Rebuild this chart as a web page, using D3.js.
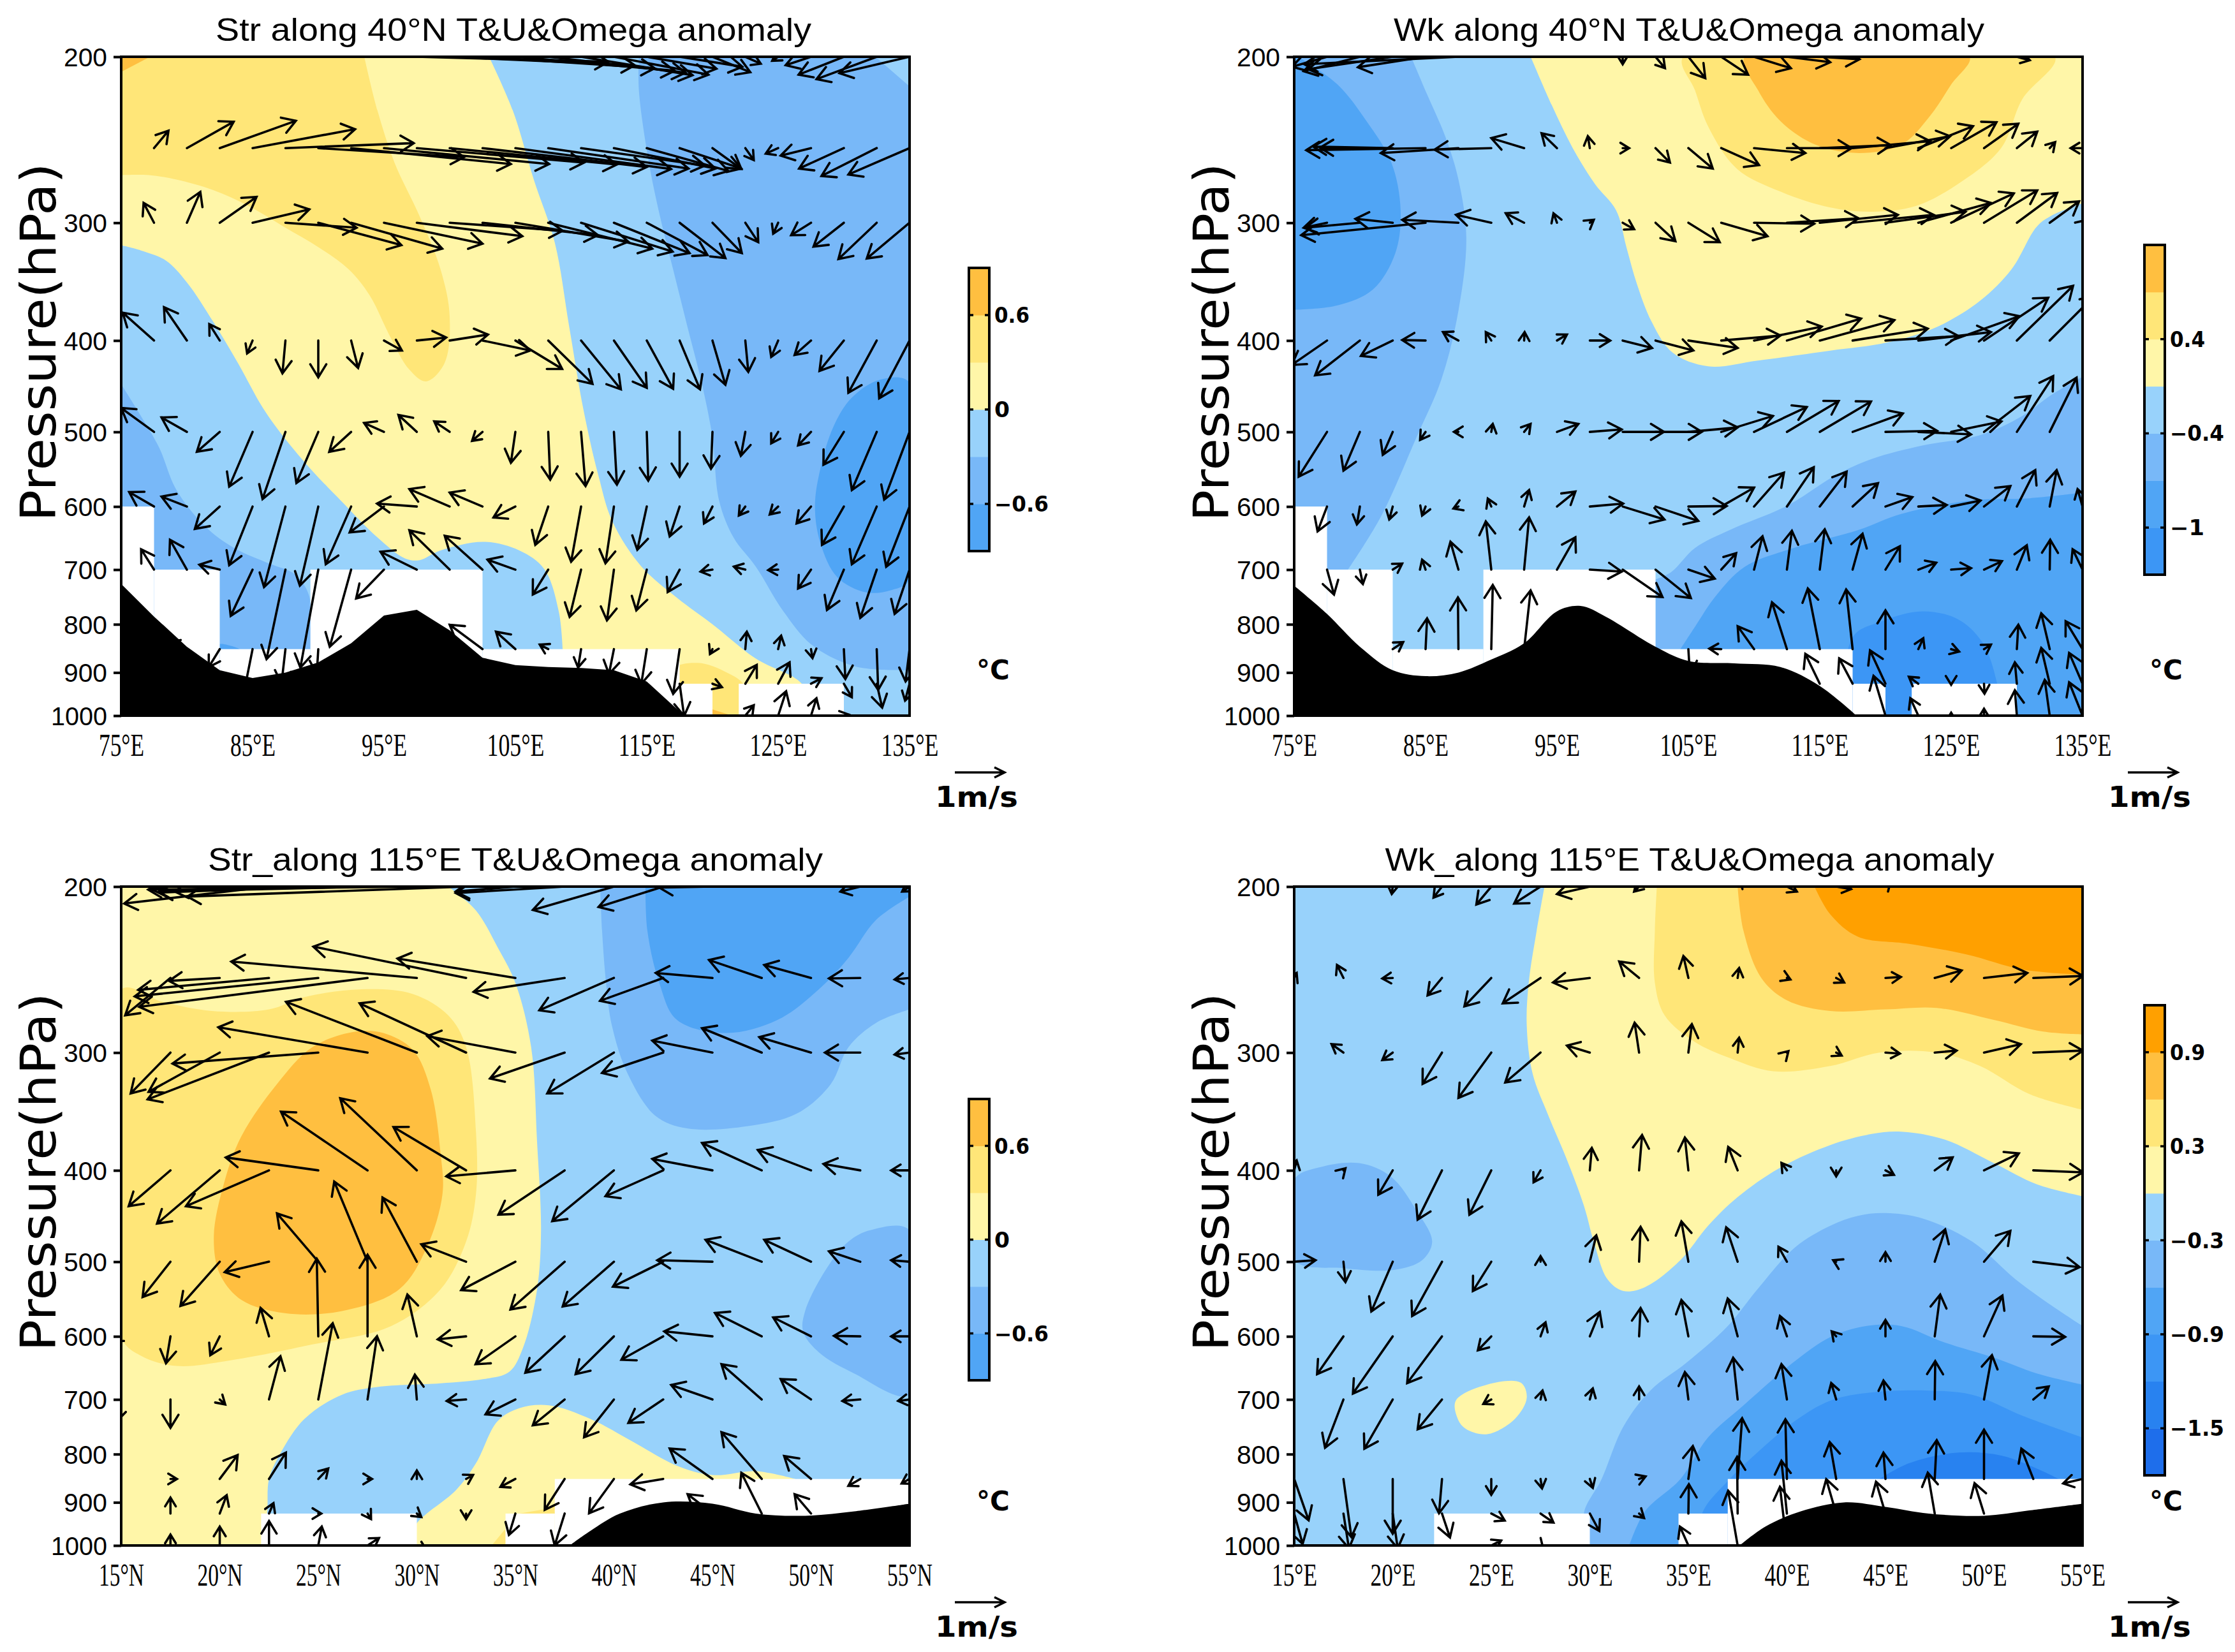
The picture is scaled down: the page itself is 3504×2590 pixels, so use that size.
<!DOCTYPE html>
<html>
<head>
<meta charset="utf-8">
<script src="https://cdn.jsdelivr.net/npm/d3@7"></script>
<style>
body { margin: 0; background: #fff; }
</style>
</head>
<body>
<div id="chart"></div>
<script>
// pressure levels that carry the wind vectors
var windLevels = [200, 250, 300, 400, 500, 600, 700, 850, 925, 1000];
var pressureTicks = [200, 300, 400, 500, 600, 700, 800, 900, 1000];

var lonTicks40 = [75, 85, 95, 105, 115, 125, 135];
var latTicks115 = [15, 20, 25, 30, 35, 40, 45, 50, 55];
var lonTicks115 = [15, 20, 25, 30, 35, 40, 45, 50, 55];

// shading classes of each colour bar, bottom to top
var classes40 = ["#50a5f5", "#78b8f8", "#98d2fb", "#fff6a8", "#ffe678", "#ffbf40"];
var classesWk40 = ["#3c96f5", "#50a5f5", "#78b8f8", "#98d2fb", "#fff6a8", "#ffe678", "#ffbf40"];
var classesWk115 = ["#1e6eeb", "#2882f0", "#3c96f5", "#50a5f5", "#78b8f8", "#98d2fb", "#fff6a8", "#ffe678", "#ffbf40", "#ffa000"];

var barLabels40 = [0.6, 0, -0.6];
var barLabelsWk40 = [0.4, -0.4, -1];
var barLabelsWk115 = [0.9, 0.3, -0.3, -0.9, -1.5];
// class boundary (from the bottom) that each label sits on
var barSlots40 = [5, 3, 1];
var barSlotsWk40 = [5, 3, 1];
var barSlotsWk115 = [9, 7, 5, 3, 1];

// no data below these pressures: column edges and top of the white block
var maskEdges40 = [75, 77.5, 82.5, 89.4, 102.5, 117.5, 120, 122, 130, 135];
var maskTops40 = [600, 700, 850, 700, 850, 925, 1000, 925, 1000];
var maskEdges115 = [15, 22.1, 30, 34.5, 37, 55];
var maskTops115 = [1000, 925, 1000, 925, 850];

// surface pressure along the section [degree, hPa]
var terrainStr40 = [[75,725],[77.5,785],[80,845],[82.5,895],[85,912],[87.5,900],[90,878],[92.5,838],[95,783],[97.5,772],[100,812],[102.5,868],[105,884],[107.5,888],[110,890],[112.5,895],[115,920],[117.5,990],[118,1000]];
var terrainWk40 = [[75,728],[77.5,780],[80,845],[82.5,895],[85,908],[87.5,900],[90,872],[92.5,838],[95,775],[96.8,765],[98.7,785],[102.5,845],[105,875],[108.5,880],[112,888],[115,930],[117.8,1000]];
var terrainStr115 = [[37.75,1000],[38.8,965],[40.3,925],[42.5,900],[45,903],[47.2,925],[49.7,930],[52.2,920],[55,903]];
var terrainWk115 = [[37.6,1000],[38.9,955],[40.7,920],[42.9,900],[45,910],[47.2,925],[50,930],[52.3,918],[55,903]];

// temperature anomaly regions, [class, segment, segment...], segments in [degree, hPa]
var bandsStr40 = [
  [1, [[[114.4,200],[114.4,217],[115.1,256],[115.9,291],[117,336],[118.1,387],[119.2,445],[120,507],[120.5,591],[121.6,647],[123.3,695],[125.4,775],[127.6,842],[130.9,887],[135,895]], [[135,1000],[135,215]], [[135,215],[132.4,200]]]],
  [0, [[[135,443],[132.8,440],[130.6,460],[129.2,494],[128.2,548],[127.8,599],[128.2,655],[129.5,713],[131.7,740],[133.6,736],[135,717]]]],
  [1, [[[75,445],[76.5,481],[77.9,520],[79.2,576],[81.4,630],[83.6,664],[86.3,690],[88.2,708],[89.3,746],[89.4,850]], [[89.4,1000],[75,1000]]]],
  [0, [[[82.5,840],[84,850],[82.5,850]]]],
  [3, [[[75,317],[76.5,321],[78.4,329],[80,347],[82,382],[83.9,423],[85.8,472],[87.4,507],[89.6,551],[91.7,591],[94.5,647],[96.6,681],[97.7,684],[99.3,668],[102.6,654],[105.3,668],[107.2,699],[108.3,775],[108.6,850]], [[108.6,1000],[127.9,1000]], [[127.9,1000],[126.8,925],[123.3,870],[120,800],[117.3,750],[114.6,695],[112.4,623],[111.3,555],[110.2,475],[109.1,387],[108,315],[106.4,270],[104.8,228],[103,200]], [[75,200]]]],
  [4, [[[93.5,200],[94.5,228],[95.8,259],[97.7,295],[99.3,336],[100,377],[99.6,423],[98.2,442],[96.9,429],[95.5,397],[93.9,358],[92.3,336],[90.1,319],[87.4,303],[84.7,288],[82,277],[79.2,270],[77.1,267],[75,267]], [[75,200]]]],
  [5, [[[75,207.5],[77.2,200]], [[75,200]]]],
  [4, [[[116.8,1000],[117,893],[118.9,879],[121.1,900],[122.4,928],[122.6,1000]]]],
  [5, [[[120,985],[121.5,1000]], [[120,1000]]]]
];
var bandsWk40 = [
  [2, [[[83.9,200],[85.1,219],[86.5,243],[87.5,270],[88.1,311],[87.5,372],[86.2,440],[84.3,507],[81.6,615],[79.1,700]], [[75,700],[75,200]]]],
  [1, [[[75.3,200],[78.3,214],[80.5,234],[82.4,259],[83.1,291],[82.7,323],[81,353],[78.3,367],[75,371]], [[75,200]]]],
  [2, [[[102.5,717],[103.7,704],[105.5,664],[108.2,635],[112.5,599],[116.3,555],[119,534],[122.8,517],[127.2,504],[130.4,481],[132.6,457],[135,437]], [[135,1000],[102.5,1000]]]],
  [1, [[[104.4,850],[105.5,805],[107.1,746],[109.3,695],[113,664],[118,635],[121.2,611],[126.6,591],[131,588],[135,580]], [[135,1000],[104.4,1000]]]],
  [0, [[[117.5,1000],[117.5,826],[119.6,795],[122.8,775],[125.5,790],[127.4,837],[128.5,925],[128.8,1000]]]],
  [4, [[[93,200],[94.6,225],[96.2,250],[97.9,273],[99.5,291],[100.3,319],[101.1,349],[102.2,382],[103.8,412],[106.5,426],[110.3,420],[115.8,410],[120.1,402],[123.9,387],[127.2,363],[129.6,336],[131.5,303],[132.6,295],[135,286]], [[135,200]]]],
  [5, [[[104.6,200],[105.5,217],[106.5,237],[108.7,263],[112,278],[115.8,289],[119,292],[122.3,288],[125.5,273],[128.8,250],[130.4,222],[132.9,200]]]],
  [6, [[[109.3,200],[110.3,217],[112,234],[114.7,248],[118,253],[121.2,248],[123.4,231],[125,214],[126.4,200]]]]
];
var bandsStr115 = [
  [1, [[[39.3,200],[39.4,223],[39.6,253],[39.9,281],[40.7,316],[42.1,350],[43.7,361],[46.8,359],[49.3,348],[51,324],[51.9,296],[53.3,279],[55,270]], [[55,200]]]],
  [0, [[[41.6,200],[41.7,223],[42.3,253],[43.2,277],[45.7,286],[48.3,277],[50.4,257],[51.9,238],[53.3,217],[55,205]], [[55,200]]]],
  [1, [[[55,463],[53,463],[51.9,476],[50.8,508],[49.7,564],[49.6,593],[50.4,624],[52.2,657],[55,692]]]],
  [3, [[[31.6,200],[33,212],[34.1,232],[35,253],[35.8,296],[36.1,373],[36.3,464],[36.1,535],[35.4,616],[34.7,654],[33.4,666],[31.2,673],[28,679],[26.2,692],[24.3,734],[23.1,797],[22.5,850],[22.4,925],[22.1,1000]], [[15,1000],[15,200]]]],
  [3, [[[29.9,1000],[29.9,955],[32,873],[33,818],[34.1,738],[35.2,715],[36.7,710],[38.8,734],[41,777],[43.2,823],[45,842],[47.2,834],[49.2,850]], [[49.2,1000]]]],
  [4, [[[15,257],[17.1,265],[19.6,271],[22.5,270],[24.3,262],[27.2,257],[29.8,260],[31.6,274],[32.5,296],[33,364],[33,424],[32.5,476],[31.2,535],[28.7,585],[24.7,612],[20.4,637],[17.8,645],[16,629],[15,601]]]],
  [5, [[[26.9,285],[28.3,286],[29.8,298],[30.7,328],[31.2,383],[31.3,424],[30.5,483],[29.1,535],[26.2,564],[23.3,567],[21.1,549],[20,515],[19.7,470],[20.2,414],[21.1,368],[22.9,324],[24.7,296]]]],
  [4, [[[33.8,1000],[34.5,960]], [[34.5,1000]]]],
  [4, [[[35.2,925],[36.5,915]], [[37,905],[37,925]]]]
];
var bandsWk115 = [
  [6, [[[27.7,200],[27.3,223],[26.9,253],[26.8,281],[27.1,316],[27.9,350],[28.8,388],[29.7,436],[30.2,476],[30.9,522],[31.7,537],[32.8,532],[34.6,498],[36,458],[37.5,427],[39.6,398],[42.2,376],[44.3,366],[45.8,364],[48,371],[50.5,393],[52.7,414],[55,426]], [[55,200]]]],
  [6, [[[23.2,702],[24.8,675],[26.5,672],[26.8,697],[26.2,734],[24.8,762],[23.7,752],[23.3,734]]]],
  [7, [[[33.4,200],[33.3,223],[33.3,253],[33.8,274],[35.3,292],[37.1,304],[39.3,314],[42.2,310],[44.7,300],[47.6,300],[49.8,310],[52.3,332],[55,345]], [[55,200]]]],
  [8, [[[37.5,200],[37.8,223],[38.7,250],[40,264],[42.2,271],[45,270],[47.6,269],[50.5,277],[53,285],[55,287]], [[55,200]]]],
  [9, [[[41.4,200],[42.2,214],[43.6,226],[46.2,230],[49.1,236],[52,245],[55,248]], [[55,200]]]],
  [4, [[[15,409],[16.3,397],[18.3,393],[19.9,406],[21.2,441],[22,476],[21.5,498],[20.1,510],[17.5,508],[15,498]]]],
  [4, [[[30,1000],[29.7,925],[30.6,850],[31.7,748],[33.1,684],[34.9,640],[37,585],[38.5,535],[40.4,483],[42.2,458],[43.6,447],[45,444],[46.9,450],[49.4,476],[51.6,522],[53.4,556],[55,585]], [[55,1000]]]],
  [3, [[[32,1000],[32.8,920],[34.6,850],[36,768],[37.8,710],[40.3,640],[42.2,601],[44,585],[45.8,585],[48,609],[50.5,632],[52.7,657],[55,675]], [[55,1000]]]],
  [2, [[[35.7,1000],[35.7,925],[37.1,850],[38.5,797],[40.4,738],[42.2,702],[44.3,688],[47.2,685],[49.4,692],[52,729],[55,768]], [[55,1000]]]],
  [1, [[[44.7,850],[46.2,818],[48.7,797],[50.9,803],[52.7,829],[53.8,850]], [[53.8,900],[44.7,900]]]]
];

// wind anomaly per level in windLevels: [grid column, u m/s, omega drawn upward]
var windStr40 = [
  [[9,3.85,-.1],[10,3.72,-.17],[11,3.46,-.23],[12,3.2,-.28],[13,2.76,-.32],[14,2.24,-.37],[15,1.9,-.36],[16,1.4,-.24],[17,1.26,-.2],[18,.76,-.31],[19,.31,-.14],[20,-.12,-.08],[21,-.51,-.17],[22,-.91,-.36],[23,-1.21,-.45],[24,-1.41,-.33]],
  [[1,.29,.35],[2,.94,.53],[3,1.53,.55],[4,2.06,.38],[5,2.58,.1],[6,2.93,-.18],[7,3.21,-.32],[8,3.32,-.32],[9,3.36,-.29],[10,3.36,-.33],[11,3.3,-.38],[12,3.13,-.42],[13,2.82,-.41],[14,2.49,-.35],[15,2.04,-.41],[16,1.64,-.46],[17,1.24,-.41],[18,.58,-.42],[19,.17,-.24],[20,-.25,-.11],[21,-.61,-.15],[22,-.9,-.41],[23,-1.11,-.56],[24,-1.23,-.53]],
  [[1,-.21,.4],[2,.27,.62],[3,.74,.52],[4,1.14,.27],[5,1.43,-.1],[6,1.67,-.45],[7,1.83,-.52],[8,1.98,-.42],[9,2.12,-.27],[10,2.27,-.16],[11,2.32,-.25],[12,2.27,-.38],[13,2.09,-.52],[14,1.84,-.58],[15,1.52,-.61],[16,1.22,-.65],[17,.92,-.71],[18,.59,-.61],[19,.26,-.39],[20,-.1,-.22],[21,-.4,-.25],[22,-.61,-.48],[23,-.77,-.73],[24,-.86,-.72]],
  [[1,-.63,.56],[2,-.46,.67],[3,-.21,.33],[4,-.11,-.26],[5,-.06,-.66],[6,0,-.74],[7,.14,-.55],[8,.36,-.2],[9,.59,.06],[10,.77,.12],[11,.96,-.2],[12,.94,-.57],[13,.89,-.87],[14,.8,-.98],[15,.66,-.95],[16,.53,-.97],[17,.41,-.98],[18,.26,-.89],[19,.06,-.63],[20,-.14,-.33],[21,-.33,-.29],[22,-.49,-.61],[23,-.57,-1.05],[24,-.61,-1.16]],
  [[1,-.66,.48],[2,-.51,.29],[3,-.46,-.4],[4,-.47,-1.1],[5,-.46,-1.35],[6,-.44,-1.03],[7,-.44,-.4],[8,-.4,.18],[9,-.37,.34],[10,-.31,.21],[11,-.21,-.18],[12,-.09,-.62],[13,.04,-.96],[14,.09,-1.09],[15,.06,-1.06],[16,.03,-.98],[17,0,-.9],[18,-.03,-.74],[19,-.09,-.48],[20,-.14,-.23],[21,-.26,-.27],[22,-.41,-.66],[23,-.5,-1.17],[24,-.51,-1.36]],
  [[1,-.5,.29],[2,-.51,.2],[3,-.5,-.45],[4,-.47,-1.18],[5,-.43,-1.62],[6,-.37,-1.59],[7,-.51,-1.16],[8,-.69,-.52],[9,-.8,.06],[10,-.81,.35],[11,-.66,.28],[12,-.44,-.22],[13,-.26,-.77],[14,-.2,-1.11],[15,-.17,-1.14],[16,-.19,-.87],[17,-.2,-.6],[18,-.17,-.34],[19,-.13,-.18],[20,-.17,-.16],[21,-.29,-.34],[22,-.44,-.77],[23,-.5,-1.16],[24,-.47,-1.21]],
  [[1,-.26,.41],[2,-.34,.6],[3,-.41,.1],[4,-.44,-.93],[5,-.38,-1.8],[6,-.36,-1.97],[7,-.43,-1.55],[8,-.56,-.58],[9,-.73,.36],[10,-.81,.79],[11,-.76,.68],[12,-.56,.2],[13,-.31,-.5],[14,-.23,-.95],[15,-.14,-1.02],[16,-.21,-.82],[17,-.24,-.45],[18,-.24,-.04],[19,-.23,.06],[20,-.2,-.01],[21,-.26,-.38],[22,-.34,-.81],[23,-.33,-.97],[24,-.3,-.89]],
  [[2,-.35,.15],[3,-.22,-.36],[4,-.2,-1],[5,-.08,-.7],[6,-.03,-.5],[11,-.66,.49],[12,-.39,.35],[13,-.17,.09],[14,-.06,-.37],[15,-.1,-.5],[16,-.11,-.7],[17,-.13,-.9],[18,-.05,-.1],[19,.03,.35],[20,.06,.27],[21,.03,-.18],[22,.03,-.6],[23,.03,-.82],[24,-.08,-.65]],
  [[17,.09,-.65],[18,.19,-.07],[19,.23,.38],[20,.23,.43],[21,.21,.11],[22,.16,-.27],[23,.11,-.48],[24,-.09,-.34]],
  [[19,.17,.21],[20,.16,.49],[21,.11,.35],[22,.1,.02]]
];
var windWk40 = [
  [[1,-.7,-.2],[2,-1.13,-.29],[3,-1.7,-.25],[4,-1.36,-.21],[5,-3.1,-.15],[10,0,-.15],[11,.19,-.23],[12,.34,-.43],[13,.54,-.36],[14,.74,-.23],[15,.87,-.11],[16,.8,-.05],[22,.26,-.07]],
  [[2,-.8,.01],[3,-1.6,.03],[4,-2.4,-.04],[5,-1.56,-.1],[6,-1.14,-.03],[7,-.66,.2],[8,-.31,.3],[9,-.04,.24],[10,.13,0],[11,.29,-.29],[12,.49,-.41],[13,.76,-.34],[14,1.03,-.1],[15,1.3,0],[16,1.43,.06],[17,1.56,.14],[18,1.3,.24],[19,1.1,.44],[20,.91,.52],[21,.69,.49],[22,.41,.33],[23,.11,.12],[24,-.24,0]],
  [[1,-.47,-.1],[2,-1.1,-.1],[3,-.75,.08],[4,-2.5,-.25],[5,-1.13,.06],[6,-.71,.16],[7,-.37,.19],[8,-.07,.19],[9,.08,.06],[10,.23,-.13],[11,.4,-.37],[12,.63,-.39],[13,.93,-.27],[14,1.21,-.02],[15,1.44,.09],[16,1.57,.16],[17,1.63,.16],[18,1.61,.22],[19,1.46,.4],[20,1.26,.59],[21,1.07,.65],[22,.81,.6],[23,.59,.43],[24,.05,.05]],
  [[1,-.71,-.49],[2,-.9,-.7],[3,-.64,-.31],[4,-.47,.01],[5,-.31,.17],[6,-.11,.17],[7,.01,.17],[8,.2,.12],[9,.41,0],[10,.59,-.15],[11,.76,-.2],[12,.99,-.15],[13,1.19,.1],[14,1.36,.28],[15,1.49,.44],[16,1.5,.41],[17,1.51,.24],[18,1.47,.09],[19,1.46,.17],[20,1.37,.49],[21,1.29,.86],[22,1.13,1.1],[23,.9,.9]],
  [[1,-.57,-.9],[2,-.33,-.78],[3,-.2,-.46],[4,-.11,-.16],[5,-.09,0],[6,.03,.16],[7,.13,.16],[8,.43,.16],[9,.64,.05],[10,.83,0],[11,.93,0],[12,.99,.09],[13,1.04,.32],[14,1.06,.5],[15,1.04,.62],[16,1.03,.61],[17,1.01,.37],[18,1.04,.02],[19,1.06,-.05],[20,1.01,.21],[21,.93,.72],[22,.73,1.12],[23,.54,1.09]],
  [[1,-.19,-.5],[2,-.06,-.36],[3,-.07,-.26],[4,-.07,-.18],[5,-.1,-.04],[6,-.07,.16],[7,.1,.33],[8,.37,.3],[9,.67,.06],[10,.84,-.26],[11,.86,-.29],[12,.77,.01],[13,.66,.38],[14,.6,.68],[15,.54,.79],[16,.54,.7],[17,.51,.47],[18,.54,.19],[19,.57,.03],[20,.59,.12],[21,.53,.41],[22,.37,.73],[23,.14,.73],[24,-.1,.35]],
  [[1,.14,-.5],[2,.06,-.29],[3,.19,.12],[4,-.07,.2],[5,-.16,.56],[6,-.11,.97],[7,.1,1.05],[8,.37,.65],[9,.64,-.04],[10,.8,-.55],[11,.71,-.57],[12,.53,-.18],[13,.3,.33],[14,.17,.67],[15,.1,.78],[16,.1,.81],[17,.2,.72],[18,.29,.47],[19,.36,.14],[20,.4,.03],[21,.36,.17],[22,.2,.49],[23,.01,.6],[24,-.2,.41]],
  [[3,.21,.14],[4,.03,.62],[5,-.01,1.04],[6,.03,1.29],[7,.13,1.18],[12,.03,-.5],[13,-.24,.01],[14,-.33,.46],[15,-.3,.94],[16,-.24,1.22],[17,-.13,1.2],[18,0,.78],[19,.1,.22],[20,.16,-.05],[21,.14,.09],[22,.03,.49],[23,-.17,.72],[24,-.34,.56]],
  [[16,-.29,.6],[17,-.27,.51],[18,-.31,.67],[19,-.19,.14],[20,0,-.02],[21,.01,-.2],[22,-.04,.43],[23,-.17,.72],[24,-.27,.62]],
  [[4,.03,.62],[5,-.01,.6],[6,.03,.9],[18,-.24,.8],[19,-.16,.35],[20,0,.06],[21,0,.14],[22,-.04,.51],[23,-.1,.72],[24,-.27,.67]]
];
var windStr115 = [
  [[1,-.4,-.05],[2,-.9,-.1],[3,-2.91,-.34],[4,-3.2,-.12],[5,-4.2,-.1],[6,-5.4,-.06],[7,-5.6,-.2],[8,-1.2,-.1],[9,-2.19,-.13],[10,-1.63,-.47],[11,-1.3,-.41],[12,-1.07,-.02],[15,-.4,-.1],[16,-.15,-.1]],
  [[1,-.91,-.75],[2,-1.02,-.06],[3,-2.63,-.24],[4,-3.69,-.37],[5,-4.59,-.58],[6,-3.73,.33],[7,-3.07,.63],[8,-2.37,.39],[9,-1.83,-.28],[10,-1.5,-.65],[11,-1.27,-.46],[12,-1.14,.1],[13,-1.06,.36],[14,-.94,.26],[15,-.63,-.01],[16,-.3,-.03]],
  [[1,-.8,-.82],[2,-1.43,-.79],[3,-2.44,-.94],[4,-2.93,-.22],[5,-3,.51],[6,-2.63,1.02],[7,-2.14,.99],[8,-1.77,.33],[9,-1.5,-.52],[10,-1.34,-.82],[11,-1.23,-.41],[12,-1.21,.24],[13,-1.2,.49],[14,-1.04,.31],[15,-.71,0],[16,-.3,-.04]],
  [[1,-.84,-.72],[2,-1.26,-1.07],[3,-1.67,-.72],[4,-1.86,.26],[5,-1.74,1.18],[6,-1.54,1.45],[7,-1.46,.87],[8,-1.39,-.12],[9,-1.33,-.89],[10,-1.24,-1.02],[11,-1.16,-.52],[12,-1.21,.23],[13,-1.2,.55],[14,-1.07,.41],[15,-.74,.13],[16,-.37,0]],
  [[1,-.56,-.71],[2,-.79,-.89],[3,-.89,-.21],[4,-.83,.97],[5,-.67,1.61],[6,-.69,1.29],[7,-.9,.35],[8,-1.09,-.57],[9,-1.09,-.96],[10,-1.03,-.9],[11,-1.01,-.5],[12,-1.11,.03],[13,-1.13,.44],[14,-.94,.44],[15,-.63,.21],[16,-.37,.03]],
  [[0,-.15,-.1],[1,-.09,-.54],[2,-.19,-.38],[3,-.17,.57],[4,-.03,1.56],[5,0,1.64],[6,-.19,.84],[7,-.57,-.06],[8,-.8,-.56],[9,-.79,-.73],[10,-.77,-.76],[11,-.84,-.47],[12,-.97,.1],[13,-.94,.47],[14,-.76,.38],[15,-.53,.01],[16,-.37,0]],
  [[0,-.1,-.45],[1,0,-.57],[2,.11,-.1],[3,.23,.87],[4,.29,1.53],[5,.19,1.27],[6,-.04,.5],[7,-.39,-.03],[8,-.6,-.3],[9,-.64,-.52],[10,-.6,-.76],[11,-.7,-.47],[12,-.83,.29],[13,-.81,.71],[14,-.61,.41],[15,-.36,-.03],[16,-.23,-.03]],
  [[1,.13,0],[2,.36,.48],[3,.34,.53],[4,.2,.21],[5,.09,0],[6,0,.17],[7,.14,.08],[8,-.3,-.16],[9,-.4,-.62],[10,-.5,-.69],[11,-.66,-.11],[12,-.86,.61],[13,-.81,.94],[14,-.54,.46],[15,-.24,-.14],[16,-.16,-.09]],
  [[1,0,.32],[2,.14,.37],[3,.09,.21],[4,.06,0],[5,.07,-.11],[6,.09,-.07],[7,0,-.11],[8,-.13,-.43],[9,-.2,-.64],[12,-.5,.39],[13,-.41,.82],[14,-.33,.39]],
  [[1,0,.22],[2,0,.38],[3,0,.49],[4,.07,.38],[5,.23,.15],[6,.2,-.1]]
];
var windWk115 = [
  [[2,-.02,-.15],[3,-.17,-.22],[4,-.3,-.36],[5,-.53,-.34],[6,-.66,-.15],[7,-.1,-.1],[9,.05,.15],[10,.2,-.1],[11,.3,-.05],[12,.1,.1]],
  [[0,.05,.1],[1,-.13,.26],[2,-.21,-.01],[3,-.29,-.35],[4,-.54,-.57],[5,-.76,-.51],[6,-.74,-.09],[7,-.4,.33],[8,-.1,.44],[9,.03,.2],[10,.07,-.03],[11,.16,-.09],[12,.31,.02],[13,.54,.15],[14,.87,.1],[15,1,.04]],
  [[1,-.24,.17],[2,-.21,-.15],[3,-.39,-.63],[4,-.66,-.91],[5,-.71,-.6],[6,-.46,.14],[7,-.09,.6],[8,.07,.57],[9,.03,.3],[10,.03,.03],[11,.11,-.06],[12,.29,-.02],[13,.44,.04],[14,.74,.17],[15,1,.04]],
  [[0,.05,.2],[1,.04,.04],[2,-.29,-.49],[3,-.49,-.99],[4,-.44,-.89],[5,-.14,-.24],[6,.04,.45],[7,.06,.71],[8,-.07,.66],[9,-.19,.47],[10,-.11,.15],[11,0,-.12],[12,.17,-.09],[13,.36,.26],[14,.7,.34],[15,1,-.04]],
  [[0,.43,.03],[1,.04,-.41],[2,-.43,-1],[3,-.6,-1.09],[4,-.37,-.59],[5,0,.11],[6,.13,.53],[7,.03,.7],[8,-.14,.81],[9,-.23,.69],[10,-.17,.3],[11,-.06,.03],[12,0,.19],[13,.21,.65],[14,.53,.62],[15,.93,-.11]],
  [[1,-.53,-.76],[2,-.8,-1.15],[3,-.7,-.94],[4,-.27,-.28],[5,.1,.28],[6,.2,.49],[7,.03,.57],[8,-.14,.73],[9,-.2,.76],[10,-.14,.41],[11,-.09,.1],[12,0,.33],[13,.11,.84],[14,.37,.82],[15,.64,-.01]],
  [[1,-.37,-.97],[2,-.57,-.99],[3,-.49,-.6],[4,-.16,-.09],[5,.04,.18],[6,.06,.22],[7,0,.26],[8,-.07,.55],[9,-.09,.84],[10,-.11,.71],[11,-.1,.33],[12,-.04,.38],[13,.01,.77],[14,.16,.89],[15,.31,.26]],
  [[0,.29,-.83],[1,.16,-1.17],[2,0,-1.1],[3,-.06,-.69],[4,0,-.32],[5,.03,-.19],[6,.06,-.18],[7,.13,.05],[8,.09,.66],[9,.09,1.22],[10,-.03,1.2],[11,-.13,.74],[12,-.04,.53],[13,.04,.78],[14,0,.99],[15,-.24,.61],[16,-.39,-.09]],
  [[0,.17,-.61],[1,.11,-.7],[2,.1,-.7],[3,.16,-.48],[4,.27,-.14],[5,.26,-.18],[6,.19,-.35],[7,.1,-.09],[8,.01,.59],[9,-.01,1.14],[10,-.11,1.06],[11,-.2,.69],[12,-.19,.64],[13,-.14,.82],[14,-.19,.61]],
  [[4,.2,.1],[5,.05,-.05],[8,-.17,.38],[9,-.19,1.1],[10,-.14,1.18]]
];

var width = 3504, height = 2590;
var plotW = 1236, plotH = 1033;
var refLen = 78; // pixels of the 1 m/s reference arrow

var svg = d3.select("#chart").append("svg")
  .attr("width", width).attr("height", height)
  .style("display", "block");

var uScale = d3.scaleLinear().domain([0, 1]).range([0, refLen]);

function fitText(sel, len) {
  sel.attr("textLength", len).attr("lengthAdjust", "spacingAndGlyphs");
}

function drawPanel(p) {
  var g = svg.append("g").attr("transform", "translate(" + p.left + "," + p.top + ")");
  var x = d3.scaleLinear().domain(p.domain).range([0, plotW]);
  var y = d3.scaleLog().domain([200, 1000]).range([0, plotH]);
  var step = 2.5;

  var clipId = "clip" + p.id;
  g.append("clipPath").attr("id", clipId).append("rect").attr("width", plotW).attr("height", plotH);
  var inner = g.append("g").attr("clip-path", "url(#" + clipId + ")");

  // shading: light blue background then regions painted over it
  inner.append("rect").attr("width", plotW).attr("height", plotH).attr("fill", "#98d2fb");

  var curveLine = d3.line().x(function(d) { return x(d[0]); }).y(function(d) { return y(d[1]); })
    .curve(d3.curveCatmullRom.alpha(0.5));
  var closedLine = d3.line().x(function(d) { return x(d[0]); }).y(function(d) { return y(d[1]); })
    .curve(d3.curveCatmullRomClosed.alpha(0.5));

  function bandPath(segs) {
    if (segs.length == 1) return closedLine(segs[0]);
    return segs.map(function(seg, i) {
      if (seg.length < 3) {
        return seg.map(function(c, j) {
          return (i == 0 && j == 0 ? "M" : "L") + x(c[0]) + "," + y(c[1]);
        }).join("");
      }
      var d = curveLine(seg);
      return i == 0 ? d : "L" + d.slice(1);
    }).join("") + "Z";
  }

  inner.selectAll(".band").data(p.bands).enter().append("path")
    .attr("class", "band")
    .attr("d", function(d) { return bandPath(d[1]); })
    .attr("fill", function(d) { return p.colors[d[0]]; });

  // missing data blocks
  inner.selectAll(".mask").data(p.maskTops).enter().append("rect")
    .attr("class", "mask")
    .attr("x", function(d, i) { return x(p.maskEdges[i]); })
    .attr("width", function(d, i) { return x(p.maskEdges[i + 1]) - x(p.maskEdges[i]); })
    .attr("y", function(d) { return y(d); })
    .attr("height", function(d) { return plotH - y(d); })
    .attr("fill", "#fff");

  // vectors
  var vectors = [];
  p.wind.forEach(function(row, k) {
    row.forEach(function(d) {
      vectors.push({ lon: p.domain[0] + d[0] * step, lev: windLevels[k], u: d[1], w: d[2] });
    });
  });
  inner.selectAll(".vec").data(vectors).enter().append("path")
    .attr("class", "vec")
    .attr("fill", "none").attr("stroke", "#000").attr("stroke-width", 3.6)
    .attr("stroke-linejoin", "miter").attr("stroke-linecap", "round")
    .attr("d", function(d) {
      var x0 = x(d.lon), y0 = y(d.lev);
      var dx = uScale(d.u), dy = -uScale(d.w);
      var len = Math.sqrt(dx * dx + dy * dy) || 1;
      var x1 = x0 + dx, y1 = y0 + dy;
      var barb = Math.min(24, Math.max(16, len * 0.6));
      var a = Math.atan2(dy, dx);
      var da = 0.55;
      return "M" + x0 + "," + y0 + "L" + x1 + "," + y1 +
        "M" + (x1 - barb * Math.cos(a - da)) + "," + (y1 - barb * Math.sin(a - da)) +
        "L" + x1 + "," + y1 +
        "L" + (x1 - barb * Math.cos(a + da)) + "," + (y1 - barb * Math.sin(a + da));
    });

  // terrain on top
  var terrain = d3.area().x(function(d) { return x(d[0]); }).y0(plotH).y1(function(d) { return y(d[1]); })
    .curve(p.smoothTerrain ? d3.curveCatmullRom.alpha(0.5) : d3.curveLinear);
  inner.append("path").datum(p.terrain).attr("d", terrain).attr("fill", "#000");

  // frame
  g.append("rect").attr("width", plotW).attr("height", plotH)
    .attr("fill", "none").attr("stroke", "#000").attr("stroke-width", 4);

  // axes
  var yAxis = d3.axisLeft(y).tickValues(pressureTicks).tickFormat(d3.format("d")).tickSize(12).tickPadding(10);
  var ya = g.append("g").call(yAxis);
  ya.select(".domain").remove();
  ya.selectAll(".tick line").attr("stroke-width", 4).attr("stroke", "#000");
  ya.selectAll("text")
    .attr("font-family", "'Liberation Sans Narrow','Liberation Sans',sans-serif")
    .attr("font-size", 40).attr("fill", "#000")
    .attr("dy", "0.36em")
    .each(function(d) { fitText(d3.select(this), d >= 1000 ? 88 : 68); });

  var xAxis = d3.axisBottom(x).tickValues(p.xTicks)
    .tickFormat(function(d) { return d + "°" + p.hemi; }).tickSize(0).tickPadding(30);
  var xa = g.append("g").attr("transform", "translate(0," + plotH + ")").call(xAxis);
  xa.select(".domain").remove();
  xa.selectAll("text")
    .attr("font-family", "'Liberation Serif',serif")
    .attr("font-size", 50).attr("fill", "#000")
    .attr("y", 63).attr("dy", 0)
    .each(function(d) { fitText(d3.select(this), d >= 100 ? 90 : 71); });

  // titles
  var title = g.append("text").attr("x", p.titleX).attr("y", p.titleY).attr("text-anchor", "middle")
    .attr("font-family", "'Liberation Sans Narrow','Liberation Sans',sans-serif")
    .attr("font-size", 50).attr("fill", "#000").text(p.title);
  fitText(title, p.titleW);

  var yTitle = g.append("text")
    .attr("transform", "translate(-103," + (plotH * 0.5 - 69) + ") rotate(-90)")
    .attr("text-anchor", "middle")
    .attr("font-family", "'DejaVu Sans',sans-serif").attr("font-size", 76).attr("fill", "#000")
    .text("Pressure(hPa)");
  fitText(yTitle, 562);

  // colour bar
  var barX = p.barLeft - p.left, barW = 32, barTop = p.barTop - p.top;
  var n = p.colors.length;
  var cell = p.barH / n;
  var barScale = d3.scaleLinear().domain([0, n]).range([barTop + p.barH, barTop]);
  g.selectAll(".cell").data(p.colors).enter().append("rect")
    .attr("class", "cell")
    .attr("x", barX).attr("width", barW)
    .attr("y", function(d, i) { return barScale(i + 1); })
    .attr("height", cell + 0.5)
    .attr("fill", function(d) { return d; });
  g.append("rect").attr("x", barX).attr("y", barTop).attr("width", barW).attr("height", p.barH)
    .attr("fill", "none").attr("stroke", "#000").attr("stroke-width", 4);

  p.barLabels.forEach(function(v, i) {
    var yy = barScale(p.barSlots[i]);
    [[barX, barX + 7], [barX + barW - 7, barX + barW]].forEach(function(t) {
      g.append("line").attr("x1", t[0]).attr("x2", t[1]).attr("y1", yy).attr("y2", yy)
        .attr("stroke", "#000").attr("stroke-width", 3.5);
    });
    var s = String(Math.abs(v));
    var lab = g.append("text").attr("x", barX + barW + 8).attr("y", yy + 12)
      .attr("font-family", "'DejaVu Sans',sans-serif").attr("font-weight", "bold")
      .attr("font-size", 33).attr("fill", "#000")
      .text((v < 0 ? "\u2212" : "") + s);
    fitText(lab, (v < 0 ? 30 : 0) + (s.length == 1 ? 24 : 55));
  });

  // unit and reference arrow
  g.append("text").attr("x", 1341).attr("y", plotH + p.unitY)
    .attr("font-family", "'DejaVu Sans',sans-serif").attr("font-weight", "bold")
    .attr("font-size", 42).attr("fill", "#000").text("°C");

  var refY = plotH + 89;
  var rx = 1307;
  var rl = uScale(1);
  g.append("path")
    .attr("d", "M" + rx + "," + refY + "L" + (rx + rl) + "," + refY +
      "M" + (rx + rl - 16) + "," + (refY - 8) + "L" + (rx + rl) + "," + refY + "L" + (rx + rl - 16) + "," + (refY + 8))
    .attr("fill", "none").attr("stroke", "#000").attr("stroke-width", 3.5);
  var refText = g.append("text").attr("x", 1276).attr("y", plotH + 143)
    .attr("font-family", "'DejaVu Sans',sans-serif").attr("font-weight", "bold")
    .attr("font-size", 44).attr("fill", "#000").text("1m/s");
  fitText(refText, 130);
}

drawPanel({ id: 1, left: 190, top: 89, domain: [75, 135], xTicks: lonTicks40, hemi: "E",
  title: "Str along 40°N T&U&Omega anomaly", titleX: 615, titleY: -25, titleW: 934,
  bands: bandsStr40, colors: classes40, maskEdges: maskEdges40, maskTops: maskTops40,
  terrain: terrainStr40, wind: windStr40,
  barLeft: 1519, barTop: 420, barH: 444, barLabels: barLabels40, barSlots: barSlots40, unitY: -57 });
drawPanel({ id: 2, left: 2029, top: 89, domain: [75, 135], xTicks: lonTicks40, hemi: "E",
  title: "Wk along 40°N T&U&Omega anomaly", titleX: 619, titleY: -25, titleW: 926,
  bands: bandsWk40, colors: classesWk40, maskEdges: maskEdges40, maskTops: maskTops40,
  terrain: terrainWk40, wind: windWk40, smoothTerrain: true,
  barLeft: 3362, barTop: 384, barH: 517, barLabels: barLabelsWk40, barSlots: barSlotsWk40, unitY: -57 });
drawPanel({ id: 3, left: 190, top: 1390, domain: [15, 55], xTicks: latTicks115, hemi: "N",
  title: "Str_along 115°E T&U&Omega anomaly", titleX: 618, titleY: -25, titleW: 964,
  bands: bandsStr115, colors: classes40, maskEdges: maskEdges115, maskTops: maskTops115,
  terrain: terrainStr115, wind: windStr115, smoothTerrain: true,
  barLeft: 1519, barTop: 1723, barH: 441, barLabels: barLabels40, barSlots: barSlots40, unitY: -55 });
drawPanel({ id: 4, left: 2029, top: 1390, domain: [15, 55], xTicks: lonTicks115, hemi: "E",
  title: "Wk_along 115°E T&U&Omega anomaly", titleX: 620, titleY: -25, titleW: 955,
  bands: bandsWk115, colors: classesWk115, maskEdges: maskEdges115, maskTops: maskTops115,
  terrain: terrainWk115, wind: windWk115, smoothTerrain: true,
  barLeft: 3362, barTop: 1576, barH: 737, barLabels: barLabelsWk115, barSlots: barSlotsWk115, unitY: -55 });
</script>
</body>
</html>
